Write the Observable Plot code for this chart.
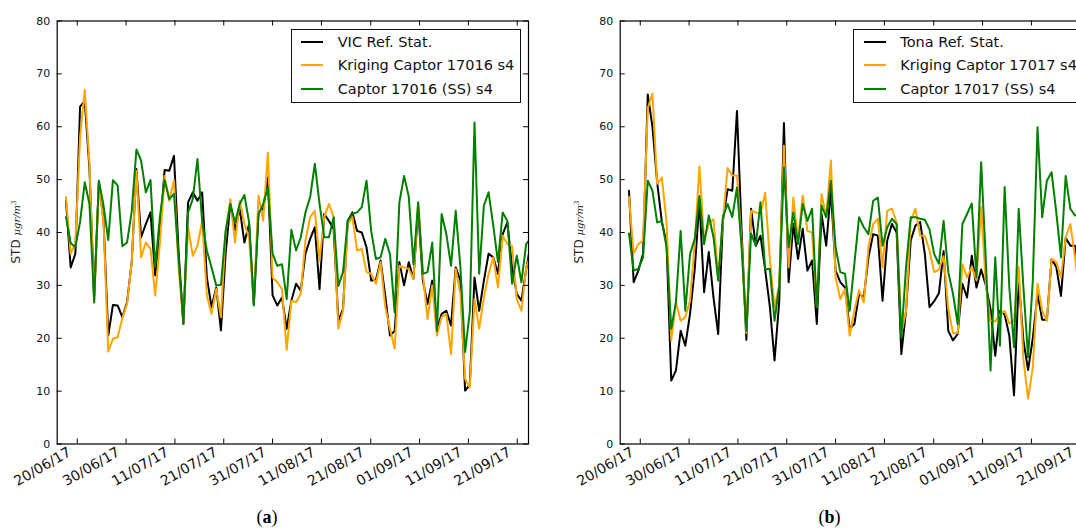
<!DOCTYPE html>
<html>
<head>
<meta charset="utf-8">
<script src="https://cdn.jsdelivr.net/npm/d3@7"></script>
<script src="https://cdn.jsdelivr.net/npm/@observablehq/plot@0.6"></script>
<style>
  html, body { margin: 0; padding: 0; background: #fff; }
  body { width: 1076px; height: 532px; overflow: hidden; position: relative; font-family: "DejaVu Sans", sans-serif; }
  .panel { position: absolute; top: 0; width: 563px; height: 532px; }
  .panel svg { position: absolute; left: 0; top: 0; overflow: visible; }
  .legend { position: absolute; left: 290.7px; top: 28.6px; width: 228px; height: 72.4px; border: 1px solid #111; background: #fff; }
  .legend .swatch { position: absolute; left: 9.3px; width: 22px; height: 2px; }
  .legend .lab { position: absolute; left: 46px; font-size: 14.5px; color: #111; white-space: nowrap; line-height: 16px; }
  .caption { position: absolute; top: 507px; width: 60px; margin-left: -30px; text-align: center; font-family: "Liberation Serif", serif; font-size: 18px; color: #000; }
</style>
</head>
<body>
<div id="pa" class="panel" style="left:0px"></div>
<div id="pb" class="panel" style="left:562.6px"></div>
<script>
// Daily STD series, one value per day starting 18/06/17 (index 0)
const vicRef = [46.0,33.4,36.0,63.8,64.9,52.0,28.0,49.5,42.3,20.5, 26.3,26.2,24.0,26.8,34.4,52.0,39.1,41.6,43.8,31.9, 40.0,51.8,51.7,54.5,36.0,22.7,45.7,47.6,46.0,47.6, 31.5,25.9,29.6,21.5,36.0,45.5,40.4,44.5,38.1,41.6, 26.5,43.8,44.5,50.4,28.1,26.2,27.7,21.8,27.1,30.3, 29.0,36.0,38.8,41.0,29.3,43.5,42.2,40.7,23.3,25.5, 42.2,43.8,40.3,40.0,37.2,30.9,31.0,34.7,28.0,20.5, 21.4,34.4,30.0,34.4,31.2,44.5,30.9,26.5,30.9,21.8, 24.6,25.2,22.4,33.4,30.9,10.1,11.2,31.5,25.2,30.9, 36.0,35.3,32.2,39.7,41.9,33.4,28.4,27.1,33.0,38.0];
const vicKriging = [46.7,36.0,38.0,58.0,67.0,53.0,26.7,49.0,42.0,17.5, 19.9,20.2,23.8,26.5,34.4,51.7,35.3,38.1,36.9,28.1, 38.0,50.7,46.0,49.9,33.0,23.0,41.0,35.6,37.5,42.2, 28.1,24.6,29.3,24.0,40.0,46.3,38.1,46.0,41.6,39.0, 26.5,47.0,42.2,55.1,31.5,30.6,29.3,17.8,27.1,26.8, 28.4,38.5,42.9,44.1,34.7,42.9,45.4,42.9,21.8,25.2, 41.6,42.9,36.6,36.9,32.5,32.2,30.3,34.4,25.9,21.8, 18.0,33.7,33.4,33.1,31.2,45.7,32.2,23.6,30.0,20.5, 24.0,24.6,17.0,33.1,28.4,12.3,10.7,27.4,21.8,27.7, 32.2,35.3,29.6,39.4,37.8,37.5,27.4,25.2,33.4,36.0];
const vicCaptor = [42.9,38.0,37.2,42.0,49.5,45.4,26.8,49.8,45.1,38.6, 49.9,48.9,37.4,38.1,44.0,55.7,53.6,47.6,49.9,33.5, 42.9,49.9,46.3,47.3,35.0,22.7,43.8,46.3,53.9,42.2, 36.6,33.4,30.0,30.1,40.3,45.4,41.9,45.4,47.1,41.9, 26.2,43.5,45.4,48.5,36.0,33.7,34.0,27.4,40.5,36.6, 39.1,43.8,46.7,53.0,45.4,39.1,39.1,42.9,29.9,32.5, 42.2,43.5,43.8,44.8,49.8,40.3,35.0,35.3,38.8,35.9, 24.9,45.7,50.7,46.8,34.0,45.7,32.2,32.5,38.1,21.4, 43.5,39.7,33.7,44.1,33.4,17.4,25.0,60.8,32.2,45.1, 47.6,41.3,34.4,43.8,42.2,30.3,35.6,30.6,37.8,39.0];

const tonaRef = [47.9,30.6,32.8,36.0,66.1,60.0,49.5,42.0,38.0,12.0, 13.9,21.4,18.6,24.6,33.0,46.0,28.7,36.3,27.7,20.8, 42.2,48.2,47.9,63.0,40.0,19.7,44.5,37.5,39.4,33.0, 26.0,15.8,27.0,60.7,30.6,41.6,35.0,40.7,32.8,34.7, 22.7,43.5,37.5,48.0,32.8,30.6,29.6,21.8,22.7,28.4, 27.7,35.3,39.7,39.4,27.1,38.5,41.6,40.0,17.0,25.2, 38.5,41.3,42.0,36.0,25.9,27.0,28.5,36.5,21.4,19.6, 20.8,30.3,27.7,35.6,29.6,33.0,30.0,25.5,16.7,25.2, 24.5,20.5,9.2,30.9,19.6,14.0,20.0,28.5,23.5,23.5, 35.0,33.5,28.0,39.0,37.5,37.5,30.0];
const tonaKriging = [46.7,36.0,37.8,38.5,63.5,66.3,49.2,50.4,42.0,19.6, 26.8,23.3,24.0,27.1,38.0,52.5,38.5,41.6,42.5,31.5, 42.2,52.2,50.8,50.8,38.0,21.0,44.1,43.8,43.5,47.5, 35.0,25.9,30.0,56.4,33.4,46.6,38.5,47.0,40.3,40.0, 25.9,47.3,42.9,53.6,31.5,27.4,29.3,20.5,25.2,29.1, 26.8,37.2,41.6,42.6,33.4,44.1,44.5,41.9,20.8,25.2, 42.2,44.5,39.4,39.4,36.6,32.5,33.0,35.5,25.5,21.0, 21.0,34.0,31.5,33.5,31.0,44.8,30.0,23.3,23.2,24.5, 25.2,22.8,23.3,33.5,16.0,8.6,14.5,30.3,25.2,23.3, 35.0,34.4,31.5,39.1,41.6,35.3,28.0];
const tonaCaptor = [39.8,32.8,33.1,35.3,49.8,47.9,41.9,42.2,37.2,21.8, 26.8,40.3,25.2,35.9,38.8,46.9,37.8,43.2,39.1,30.9, 42.9,45.4,42.9,48.5,37.0,21.4,39.8,37.5,45.7,33.1, 33.1,23.3,30.0,52.3,37.2,43.8,37.8,45.4,42.2,44.5, 25.9,45.1,42.9,49.8,37.2,32.5,32.2,25.2,34.1,42.9, 41.0,39.7,46.0,46.6,37.5,41.0,42.6,41.6,20.2,33.4, 42.9,42.9,42.6,42.4,40.6,35.9,34.1,42.2,32.5,28.4, 22.7,41.6,43.5,45.5,31.5,53.3,34.7,13.9,35.3,18.6, 48.6,29.6,18.3,44.5,29.6,16.4,30.9,59.9,42.9,49.8, 51.4,43.8,35.3,50.7,44.5,43.2,43.5];

// Date ticks, in days from the first sample
const tickDays = [2.4, 12.8, 23.2, 33.6, 44.0, 54.4, 64.9, 75.3, 85.7, 96.1];
const tickLabels = ["20/06/17","30/06/17","11/07/17","21/07/17","31/07/17","11/08/17","21/08/17","01/09/17","11/09/17","21/09/17"];
const yTicks = [0, 10, 20, 30, 40, 50, 60, 70, 80];
const dayDomain = [-1.87, 98.5];

const seriesColors = ["#000000", "#ffa500", "#008000"];

function drawPanel(host, series, names, caption) {
  const W = 563, H = 505;
  const mL = 56.7, mR = W - 528, mT = 20.5, mB = H - 443.5;
  const frameW = W - mL - mR, frameH = H - mT - mB;
  const tick = 5;

  const lines = series.map((vals, k) =>
    Plot.lineY(vals, {x: (d, i) => i, y: d => d, stroke: seriesColors[k], strokeWidth: 2, clip: true})
  );

  const chart = Plot.plot({
    width: W, height: H,
    marginLeft: mL, marginRight: mR, marginTop: mT, marginBottom: mB,
    style: {fontFamily: "DejaVu Sans, sans-serif", color: "#111", background: "transparent"},
    x: {domain: dayDomain},
    y: {domain: [0, 80]},
    marks: [
      ...lines,
      // inward ticks on all four sides
      Plot.tickX(tickDays, {x: d => d, insetTop: frameH - tick, stroke: "#000"}),
      Plot.tickX(tickDays, {x: d => d, insetBottom: frameH - tick, stroke: "#000"}),
      Plot.tickY(yTicks, {y: d => d, insetRight: frameW - tick, stroke: "#000"}),
      Plot.tickY(yTicks, {y: d => d, insetLeft: frameW - tick, stroke: "#000"}),
      Plot.frame({stroke: "#000", strokeWidth: 1.2}),
      Plot.axisY(yTicks, {tickSize: 0, tickPadding: 7, fontSize: 11, label: null}),
      Plot.axisX(tickDays, {
        tickSize: 0, tickPadding: 6, fontSize: 14, label: null, tickRotate: -30, dx: -7.5, dy: 1,
        tickFormat: d => tickLabels[tickDays.indexOf(d)]
      })
    ]
  });
  host.appendChild(chart);

  // y-axis title
  const svg = d3.select(chart);
  const t = svg.append("text")
    .attr("transform", `translate(20,${(mT + H - mB) / 2}) rotate(-90)`)
    .attr("text-anchor", "middle")
    .attr("fill", "#222")
    .style("font-family", "DejaVu Sans, sans-serif")
    .style("font-size", "12px");
  t.append("tspan").text("STD ");
  t.append("tspan").style("font-family", "DejaVu Serif, serif").style("font-style", "italic").style("font-size", "10px").text("\u03bcgr/m");
  t.append("tspan").style("font-family", "DejaVu Serif, serif").style("font-size", "7px").attr("dy", "-4").text("3");

  // legend box
  const leg = document.createElement("div");
  leg.className = "legend";
  names.forEach((name, k) => {
    const cy = 12.8 + 23.1 * k;
    const sw = document.createElement("div");
    sw.className = "swatch";
    sw.style.top = (cy - 1) + "px";
    sw.style.background = seriesColors[k];
    const lab = document.createElement("div");
    lab.className = "lab";
    lab.style.top = (cy - 8) + "px";
    lab.textContent = name;
    leg.appendChild(sw);
    leg.appendChild(lab);
  });
  host.appendChild(leg);

  const cap = document.createElement("div");
  cap.className = "caption";
  cap.style.left = "267px";
  cap.innerHTML = "(<b>" + caption + "</b>)";
  host.appendChild(cap);
}

drawPanel(document.getElementById("pa"), [vicRef, vicKriging, vicCaptor],
  ["VIC Ref. Stat.", "Kriging Captor 17016 s4", "Captor 17016 (SS) s4"], "a");
drawPanel(document.getElementById("pb"), [tonaRef, tonaKriging, tonaCaptor],
  ["Tona Ref. Stat.", "Kriging Captor 17017 s4", "Captor 17017 (SS) s4"], "b");
</script>
</body>
</html>
